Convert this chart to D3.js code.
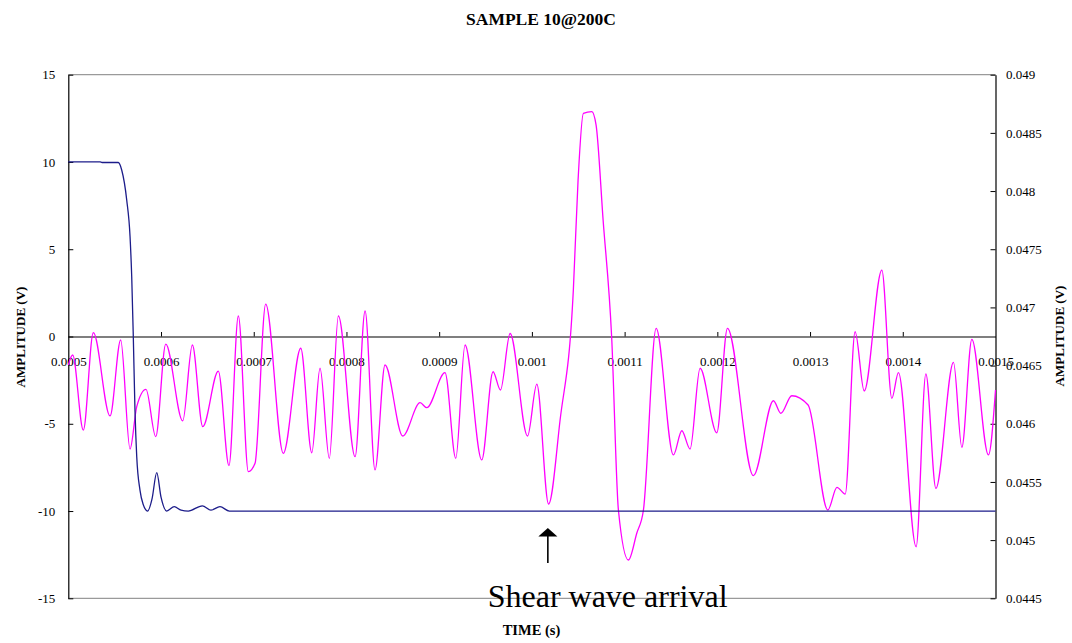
<!DOCTYPE html>
<html>
<head>
<meta charset="utf-8">
<script src="https://cdn.jsdelivr.net/npm/d3@7"></script>
<style>
  html, body { margin: 0; padding: 0; background: #fff; }
  svg { display: block; font-family: "Liberation Serif", "Times New Roman", serif; }
</style>
</head>
<body>
<svg id="chart" width="1072" height="643"></svg>
<script>
// Trigger channel (left axis, volts)
const triggerTime = [0.0005, 0.0005342, 0.0005364, 0.0005539, 0.0005576, 0.000563, 0.0005666, 0.0005684,
  0.0005701, 0.0005719, 0.0005738, 0.0005773, 0.0005806, 0.0005856, 0.0005903, 0.0005954, 0.0006,
  0.0006061, 0.0006143, 0.0006216, 0.0006294, 0.0006445, 0.0006539, 0.0006636, 0.0006737, 0.0015];
const triggerVolt = [10, 10, 9.97, 9.97, 9.54, 7.82, 5.72, 3.42,
  0, -4.2, -6.88, -8.8, -9.6, -10, -9.3, -7.8, -9.2,
  -10, -9.75, -9.95, -10, -9.7, -9.95, -9.75, -10, -10];

// Receiver channel (right axis, volts)
const receiverTime = [0.0005, 0.0005047, 0.0005162, 0.000527, 0.000545, 0.0005565, 0.0005666, 0.0005738,
  0.0005838, 0.0005943, 0.0006051, 0.0006234, 0.0006338, 0.000645, 0.0006618, 0.0006733, 0.0006834,
  0.0006942, 0.0007014, 0.0007129, 0.0007319, 0.0007507, 0.0007626, 0.0007715, 0.0007815, 0.0007913,
  0.0008093, 0.0008201, 0.0008308, 0.0008416, 0.0008607, 0.0008794, 0.0008866, 0.0009063, 0.0009179,
  0.0009279, 0.0009459, 0.0009581, 0.0009661, 0.0009765, 0.0009953, 0.0010053, 0.001018, 0.0010304,
  0.0010447, 0.0010498, 0.0010555, 0.0010646, 0.0010692, 0.0010768, 0.001086, 0.0010933, 0.0011041,
  0.0011131, 0.0011203, 0.001134, 0.0011526, 0.0011617, 0.0011706, 0.0011814, 0.0011994, 0.0012109,
  0.0012389, 0.0012605, 0.0012685, 0.0012803, 0.0012979, 0.0013192, 0.001329, 0.0013379, 0.0013486,
  0.0013584, 0.0013774, 0.0013882, 0.0013953, 0.0014144, 0.0014249, 0.0014357, 0.0014547, 0.0014637,
  0.0014745, 0.0014924, 0.0015];
const receiverVolt = [0.046505, 0.046591, 0.045946, 0.046783, 0.046067, 0.04672, 0.045783, 0.046147,
  0.046296, 0.045889, 0.046685, 0.046024, 0.046677, 0.045975, 0.046453, 0.04564, 0.046926,
  0.045588, 0.04566, 0.047029, 0.045746, 0.046649, 0.045751, 0.046477, 0.045703, 0.046926,
  0.045717, 0.046969, 0.045603, 0.046505, 0.045895, 0.046181, 0.046138, 0.046439, 0.045703,
  0.046677, 0.045689, 0.046447, 0.04629, 0.046776, 0.045895, 0.04634, 0.04531, 0.046032,
  0.04715, 0.048095, 0.048668, 0.048682, 0.048568, 0.047751, 0.046748, 0.045259, 0.044829,
  0.045059, 0.045259, 0.04682, 0.045732, 0.04594, 0.045783, 0.046477, 0.045923, 0.04682,
  0.045554, 0.046198, 0.04609, 0.046241, 0.046161, 0.045259, 0.045454, 0.045396, 0.046791,
  0.046282, 0.047321, 0.046219, 0.046439, 0.044943, 0.046428, 0.045445, 0.046528, 0.045798,
  0.046726, 0.045732, 0.04629];

// Axis ticks and their labels
const timeTicks = [0.0005, 0.0006, 0.0007, 0.0008, 0.0009, 0.001, 0.0011, 0.0012, 0.0013, 0.0014, 0.0015];
const timeTickLabels = ["0.0005", "0.0006", "0.0007", "0.0008", "0.0009", "0.001", "0.0011", "0.0012", "0.0013", "0.0014", "0.0015"];
const leftTicks = [15, 10, 5, 0, -5, -10, -15];
const leftTickLabels = ["15", "10", "5", "0", "-5", "-10", "-15"];
const rightTicks = [0.049, 0.0485, 0.048, 0.0475, 0.047, 0.0465, 0.046, 0.0455, 0.045, 0.0445];
const rightTickLabels = ["0.049", "0.0485", "0.048", "0.0475", "0.047", "0.0465", "0.046", "0.0455", "0.045", "0.0445"];

const svg = d3.select("#chart");
const plot = { left: 68.3, right: 995.5, top: 74.7, bottom: 598.3 };

const x = d3.scaleLinear().domain([0.0005, 0.0015]).range([plot.left, plot.right]);
const yL = d3.scaleLinear().domain([-15, 15]).range([plot.bottom, plot.top]);
const yR = d3.scaleLinear().domain([0.0445, 0.049]).range([plot.bottom, plot.top]);

// Frame: grey top and bottom edges
svg.append("line").attr("x1", plot.left).attr("x2", plot.right).attr("y1", plot.top).attr("y2", plot.top)
  .attr("stroke", "#9a9a9a").attr("stroke-width", 1.3);
svg.append("line").attr("x1", plot.left).attr("x2", plot.right).attr("y1", plot.bottom).attr("y2", plot.bottom)
  .attr("stroke", "#9a9a9a").attr("stroke-width", 1.3);

function styleAxis(g) {
  g.selectAll("path.domain").attr("stroke", "#000").attr("stroke-width", 1.2);
  g.selectAll(".tick line").attr("stroke", "#000").attr("stroke-width", 1);
  g.selectAll(".tick text").attr("fill", "#000")
    .style("font-family", "'Liberation Serif', serif").style("font-size", "13px");
}

// Left axis
svg.append("g").attr("transform", `translate(${plot.left},0)`)
  .call(d3.axisLeft(yL).tickValues(leftTicks).tickFormat((d, i) => leftTickLabels[i])
    .tickSizeInner(-5).tickSizeOuter(0).tickPadding(13))
  .call(styleAxis);

// Right axis
svg.append("g").attr("transform", `translate(${plot.right},0)`)
  .call(d3.axisRight(yR).tickValues(rightTicks).tickFormat((d, i) => rightTickLabels[i])
    .tickSizeInner(-5).tickSizeOuter(0).tickPadding(10.5))
  .call(styleAxis);

// Time axis along the zero line
svg.append("g").attr("transform", `translate(0,${yL(0)})`)
  .call(d3.axisBottom(x).tickValues(timeTicks).tickFormat((d, i) => timeTickLabels[i])
    .tickSizeInner(-4.5).tickSizeOuter(0).tickPadding(20))
  .call(styleAxis)
  .call(g => g.selectAll(".tick line").filter((d, i) => i === 0 || i === timeTicks.length - 1).remove());

// Receiver trace
const receiverLine = d3.line()
  .x(d => x(d[0])).y(d => yR(d[1]))
  .curve(d3.curveMonotoneX);
svg.append("path")
  .datum(d3.zip(receiverTime, receiverVolt))
  .attr("d", receiverLine)
  .attr("fill", "none").attr("stroke", "#ff00ff").attr("stroke-width", 1.3);

// Trigger trace
const triggerLine = d3.line()
  .x(d => x(d[0])).y(d => yL(d[1]))
  .curve(d3.curveMonotoneX);
svg.append("path")
  .datum(d3.zip(triggerTime, triggerVolt))
  .attr("d", triggerLine)
  .attr("fill", "none").attr("stroke", "#1c1c8a").attr("stroke-width", 1.3);

// Title
svg.append("text").attr("x", 541).attr("y", 25).attr("text-anchor", "middle")
  .style("font-size", "17.5px").style("font-weight", "bold")
  .text("SAMPLE 10@200C");

// Axis titles
svg.append("text").attr("transform", "translate(25,337) rotate(-90)").attr("text-anchor", "middle")
  .style("font-size", "13px").style("font-weight", "bold").text("AMPLITUDE (V)");
svg.append("text").attr("transform", "translate(1064,336) rotate(-90)").attr("text-anchor", "middle")
  .style("font-size", "13px").style("font-weight", "bold").text("AMPLITUDE (V)");
svg.append("text").attr("x", 531.5).attr("y", 635).attr("text-anchor", "middle")
  .style("font-size", "14.5px").style("font-weight", "bold").text("TIME (s)");

// Annotation: arrival marker
const arrivalTime = 0.0010172;
const ax = x(arrivalTime);
svg.append("line").attr("x1", ax).attr("x2", ax).attr("y1", 563).attr("y2", 535)
  .attr("stroke", "#000").attr("stroke-width", 1.6);
svg.append("path")
  .attr("d", `M${ax - 9.5},536.5 L${ax + 9.5},536.5 L${ax},528 Z`)
  .attr("fill", "#000");
svg.append("text").attr("x", 487.7).attr("y", 607).style("font-size", "32px")
  .text("Shear wave arrival");
</script>
</body>
</html>
